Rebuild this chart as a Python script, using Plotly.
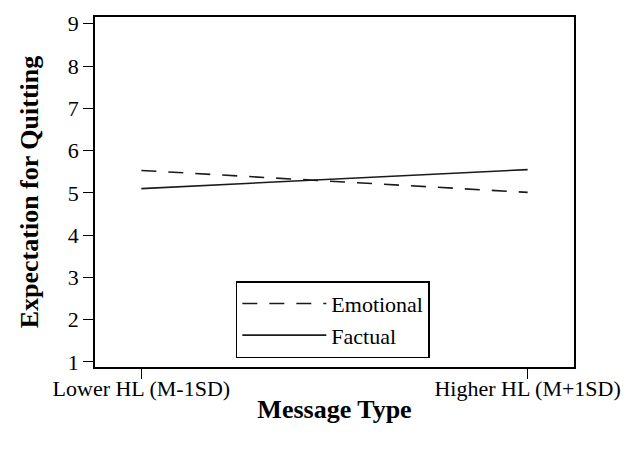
import plotly.graph_objects as go

categories = ["Lower HL (M-1SD)", "Higher HL (M+1SD)"]
emotional = [5.53, 5.01]
factual = [5.10, 5.55]
y_ticks = [1, 2, 3, 4, 5, 6, 7, 8, 9]

FONT = "Liberation Serif, Times New Roman, serif"

fig = go.Figure()
fig.add_trace(go.Scatter(
    x=categories, y=emotional, name="Emotional", mode="lines",
    line=dict(color="#1a1a1a", width=1.6, dash="15px,12px"),
))
fig.add_trace(go.Scatter(
    x=categories, y=factual, name="Factual", mode="lines",
    line=dict(color="#1a1a1a", width=1.6),
))

fig.update_layout(
    width=617, height=442,
    margin=dict(l=87, r=47, t=4, b=83),
    paper_bgcolor="white", plot_bgcolor="white",
    font=dict(family=FONT, color="black", size=21),
    showlegend=True,
    legend=dict(
        x=0.294, y=0.025, xanchor="left", yanchor="bottom",
        bordercolor="black", borderwidth=1.5, bgcolor="white",
        font=dict(family=FONT, size=22, color="black"),
        tracegroupgap=0, itemwidth=84,
    ),
)
fig.update_xaxes(
    type="category", range=[-0.12, 1.12],
    showline=True, linecolor="black", linewidth=1.5, mirror=True,
    ticks="outside", ticklen=10, tickwidth=1, tickcolor="black",
    showgrid=False, zeroline=False,
    tickfont=dict(family=FONT, size=22),
    ticklabelstandoff=-9,
    title=dict(text="<b>Message Type</b>", font=dict(family=FONT, size=26), standoff=0),
)
fig.update_yaxes(
    range=[0.88, 9.16], tickvals=y_ticks,
    showline=True, linecolor="black", linewidth=1.5, mirror=True,
    ticks="outside", ticklen=10, tickwidth=1, tickcolor="black",
    showgrid=False, zeroline=False,
    tickfont=dict(family=FONT, size=22),
    title=dict(text="<b>Expectation for Quitting</b>", font=dict(family=FONT, size=26), standoff=22),
)

fig.write_html("out.html")
